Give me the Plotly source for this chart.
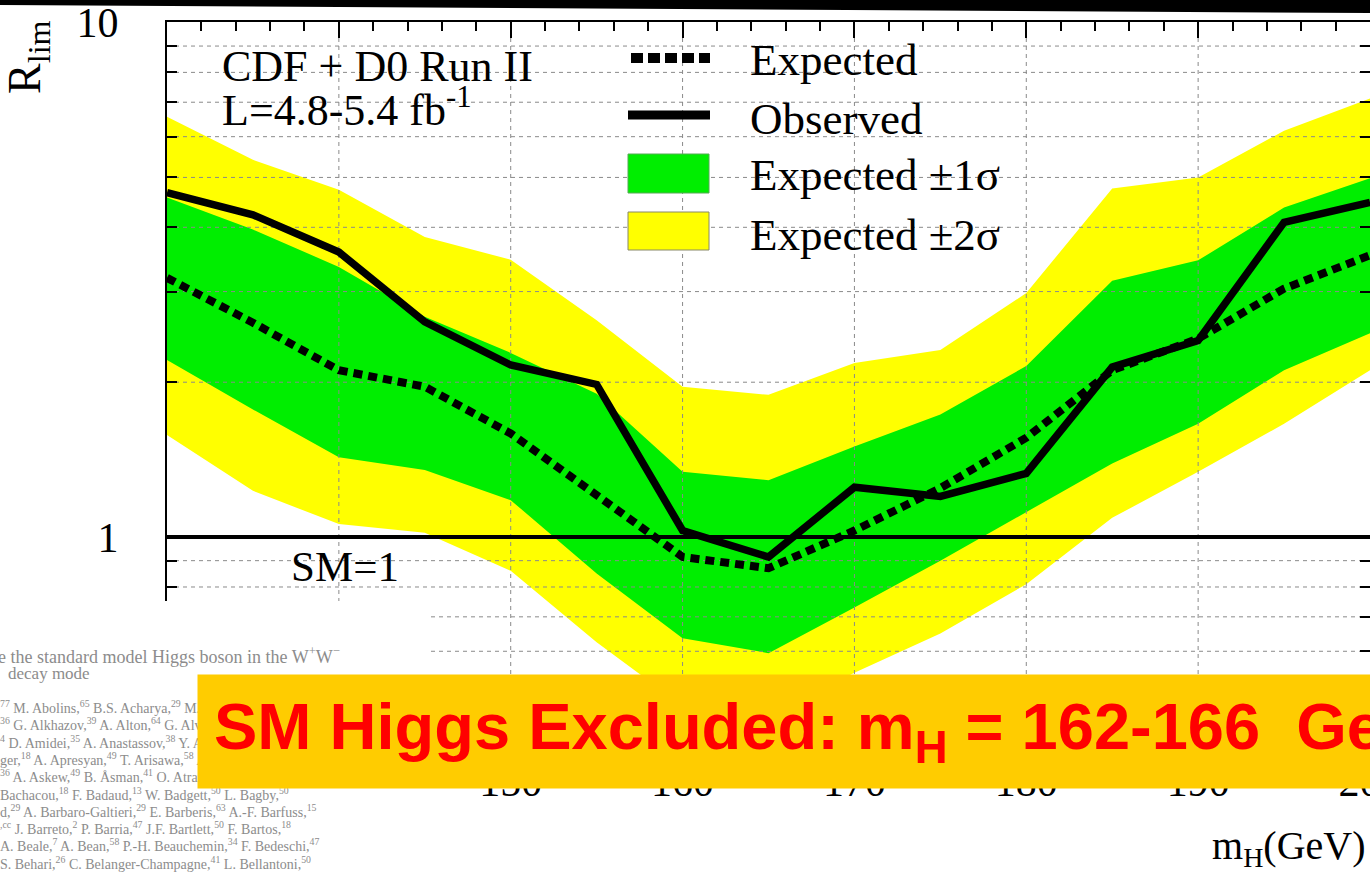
import plotly.graph_objects as go

# Higgs mass points (GeV)
mass = [130, 135, 140, 145, 150, 155, 160, 165, 170, 175, 180, 185, 190, 195, 200]

# 95% CL limit ratio R_lim = sigma_lim / sigma_SM
observed = [4.67, 4.23, 3.58, 2.62, 2.16, 1.98, 1.03, 0.915, 1.25, 1.20, 1.33, 2.14, 2.41, 4.09, 4.47]
expected = [3.19, 2.61, 2.11, 1.96, 1.59, 1.21, 0.915, 0.87, 1.03, 1.245, 1.56, 2.11, 2.43, 3.04, 3.53]

# expected +-1 sigma band
band1_hi = [4.57, 3.96, 3.35, 2.68, 2.28, 1.90, 1.34, 1.29, 1.50, 1.73, 2.15, 3.15, 3.45, 4.37, 4.98]
band1_lo = [2.21, 1.77, 1.43, 1.35, 1.18, 0.85, 0.636, 0.595, 0.73, 0.90, 1.12, 1.39, 1.66, 2.11, 2.49]
# expected +-2 sigma band
band2_hi = [6.56, 5.41, 4.73, 3.83, 3.46, 2.64, 1.96, 1.89, 2.18, 2.31, 2.98, 4.76, 5.00, 6.16, 7.12]
band2_lo = [1.58, 1.23, 1.06, 1.02, 0.86, 0.625, 0.47, 0.45, 0.545, 0.65, 0.81, 1.09, 1.34, 1.66, 2.11]

x_ticks = [130, 140, 150, 160, 170, 180, 190, 200]
x_ticklabels = ["130", "140", "150", "160", "170", "180", "190", "200"]
y_ticks = [0.4, 0.5, 0.6, 0.7, 0.8, 0.9, 1, 2, 3, 4, 5, 6, 7, 8, 9, 10]
y_ticklabels = ["", "", "", "", "", "", "1", "", "", "", "", "", "", "", "", "10"]

Y_LOG_MIN, Y_LOG_MAX = -0.437, 1.001
X_MIN, X_MAX = 130, 200

W, H = 1370, 876
ML, MR, MT, MB = 167, 0, 22, 114
PW, PH = W - ML - MR, H - MT - MB

SERIF = "Liberation Serif, Times New Roman, serif"
SANS = "Liberation Sans, Arial, sans-serif"


def px(xp):
    """pixel column -> paper x"""
    return (xp - ML) / PW


def py(yp):
    """pixel row -> paper y"""
    return 1 - (yp - MT) / PH


fig = go.Figure()

# +-2 sigma band
fig.add_trace(go.Scatter(
    x=mass + mass[::-1], y=band2_hi + band2_lo[::-1], fill="toself",
    fillcolor="#FFFF00", line=dict(width=0), mode="lines", hoverinfo="skip",
    showlegend=False))
# +-1 sigma band
fig.add_trace(go.Scatter(
    x=mass + mass[::-1], y=band1_hi + band1_lo[::-1], fill="toself",
    fillcolor="#00EE00", line=dict(width=0), mode="lines", hoverinfo="skip",
    showlegend=False))

# dashed grid drawn on top of the bands
gx, gy = [], []
ymin = 10 ** Y_LOG_MIN
for xv in x_ticks[1:-1]:
    gx += [xv, xv, None]
    gy += [ymin, 10, None]
for yv in y_ticks[:-1]:
    if yv == 1:
        continue
    gx += [X_MIN, X_MAX, None]
    gy += [yv, yv, None]
fig.add_trace(go.Scatter(x=gx, y=gy, mode="lines",
                         line=dict(color="#8a8a8a", width=1, dash="4px,4px"),
                         hoverinfo="skip", showlegend=False))

# SM = 1 reference
fig.add_trace(go.Scatter(x=[X_MIN, X_MAX], y=[1, 1], mode="lines",
                         line=dict(color="black", width=4), hoverinfo="skip",
                         showlegend=False))

fig.add_trace(go.Scatter(x=mass, y=expected, mode="lines", name="Expected",
                         line=dict(color="black", width=8, dash="9px,6px"),
                         showlegend=False))
fig.add_trace(go.Scatter(x=mass, y=observed, mode="lines", name="Observed",
                         line=dict(color="black", width=7.5),
                         showlegend=False))

fig.update_xaxes(
    range=[X_MIN, X_MAX], tickvals=x_ticks, ticktext=x_ticklabels,
    showgrid=False, zeroline=False, showline=True, linecolor="black", linewidth=2,
    mirror="ticks", ticks="inside", ticklen=16, tickwidth=1.5, tickcolor="black",
    minor=dict(dtick=2, ticks="inside", ticklen=9, tickwidth=1.5, tickcolor="black", showgrid=False),
    tickfont=dict(family=SERIF, size=42, color="black"), ticklabelstandoff=-18,
    ticklabeloverflow="allow", automargin=False,
)
fig.update_yaxes(
    type="log", range=[Y_LOG_MIN, Y_LOG_MAX], tickvals=y_ticks, ticktext=y_ticklabels,
    showgrid=False, zeroline=False, showline=True, linecolor="black", linewidth=2,
    mirror="ticks", ticks="inside", ticklen=10, tickwidth=1.5, tickcolor="black",
    tickfont=dict(family=SERIF, size=42, color="black"), ticklabelstandoff=38,
    ticklabeloverflow="allow", automargin=False,
)

shapes = []
# dark strip across the top edge
shapes.append(dict(type="path", xref="paper", yref="paper",
                   path=f"M {px(0)},{py(0)} L {px(1370)},{py(0)} L {px(1370)},{py(13)} L {px(0)},{py(5)} Z",
                   fillcolor="black", line=dict(width=0), layer="above"))
# page excerpt pasted over the lower-left corner
shapes.append(dict(type="rect", xref="paper", yref="paper",
                   x0=px(0), x1=px(428), y0=py(876), y1=py(601),
                   fillcolor="white", line=dict(width=0), layer="above"))
# legend keys
shapes.append(dict(type="line", xref="paper", yref="paper",
                   x0=px(631), x1=px(710), y0=py(58), y1=py(58),
                   line=dict(color="black", width=10, dash="12px,5px"), layer="above"))
shapes.append(dict(type="line", xref="paper", yref="paper",
                   x0=px(628), x1=px(710), y0=py(115), y1=py(115),
                   line=dict(color="black", width=9), layer="above"))
shapes.append(dict(type="rect", xref="paper", yref="paper",
                   x0=px(628), x1=px(709), y0=py(193), y1=py(154),
                   fillcolor="#00EE00", line=dict(color="#55aa55", width=1), layer="above"))
shapes.append(dict(type="rect", xref="paper", yref="paper",
                   x0=px(628), x1=px(709), y0=py(250), y1=py(212),
                   fillcolor="#FFFF00", line=dict(color="#888866", width=1), layer="above"))

ann = []


def text(x, y, s, size, family=SERIF, color="black", xanchor="left", yanchor="middle", **kw):
    ann.append(dict(xref="paper", yref="paper", x=px(x), y=py(y), text=s, showarrow=False,
                    xanchor=xanchor, yanchor=yanchor,
                    font=dict(family=family, size=size, color=color), **kw))


text(220, 66, "CDF + D0 Run II", 44)
text(220, 107, "L=4.8-5.4 fb<sup>-1</sup>", 44)
for yy, s in [(60, "Expected"), (119, "Observed"), (175, "Expected \u00b11\u03c3"), (235, "Expected \u00b12\u03c3")]:
    text(748, yy, s, 45)
text(345, 566, "SM=1", 43, xanchor="center")
text(28, 57, "R<sub>lim</sub>", 46, xanchor="center", textangle=-90)
text(1368, 848, "m<sub>H</sub>(GeV)", 40, xanchor="right")

# page excerpt text
GREY = "#8c8c8c"
text(-4, 655, "e the standard model Higgs boson in the W<sup>+</sup>W<sup>\u2212</sup>", 18, color=GREY)
text(6, 673, "decay mode", 17, color=GREY)
authors = [
    "<sup>77</sup> M. Abolins,<sup>65</sup> B.S. Acharya,<sup>29</sup> M. Adams,<sup>51</sup> T. Adams,<sup>49</sup> E. Aguilo,<sup>6</sup>",
    "<sup>36</sup> G. Alkhazov,<sup>39</sup> A. Alton,<sup>64</sup> G. Alverson,<sup>63</sup> G.A. Alves,<sup>2</sup> M. Aoki,<sup>50</sup>",
    "<sup>4</sup> D. Amidei,<sup>35</sup> A. Anastassov,<sup>38</sup> Y. Arnoud,<sup>14</sup> M. Arov,<sup>60</sup>",
    "ger,<sup>18</sup> A. Apresyan,<sup>49</sup> T. Arisawa,<sup>58</sup> A. Artikov,<sup>16</sup> J. Asaadi,<sup>54</sup>",
    "<sup>36</sup> A. Askew,<sup>49</sup> B. \u00c5sman,<sup>41</sup> O. Atramentov,<sup>49</sup> A. Attal,<sup>4</sup>",
    "Bachacou,<sup>18</sup> F. Badaud,<sup>13</sup> W. Badgett,<sup>50</sup> L. Bagby,<sup>50</sup>",
    "d,<sup>29</sup> A. Barbaro-Galtieri,<sup>29</sup> E. Barberis,<sup>63</sup> A.-F. Barfuss,<sup>15</sup>",
    "<sup>,cc</sup> J. Barreto,<sup>2</sup> P. Barria,<sup>47</sup> J.F. Bartlett,<sup>50</sup> F. Bartos,<sup>18</sup>",
    "A. Beale,<sup>7</sup> A. Bean,<sup>58</sup> P.-H. Beauchemin,<sup>34</sup> F. Bedeschi,<sup>47</sup>",
    "S. Behari,<sup>26</sup> C. Belanger-Champagne,<sup>41</sup> L. Bellantoni,<sup>50</sup>",
]
for i, line in enumerate(authors):
    text(-2, 707 + i * 17.3, line, 14, color=GREY)

# highlighted result banner (drawn last so it sits on top)
ann.append(dict(xref="paper", yref="paper", x=px(197), y=py(674), xanchor="left", yanchor="top",
                text="SM Higgs Excluded: m<sub>H</sub> = 162-166\u00a0 GeV", showarrow=False,
                align="left", valign="middle", width=1400, height=81, borderpad=16,
                bgcolor="#FFCC00", font=dict(family=SANS, size=65, color="#FF0000", weight="bold")))

fig.update_layout(
    width=W, height=H, margin=dict(l=ML, r=MR, t=MT, b=MB, autoexpand=False),
    paper_bgcolor="white", plot_bgcolor="white",
    shapes=shapes, annotations=ann, showlegend=False,
)

fig.write_html("out.html")
